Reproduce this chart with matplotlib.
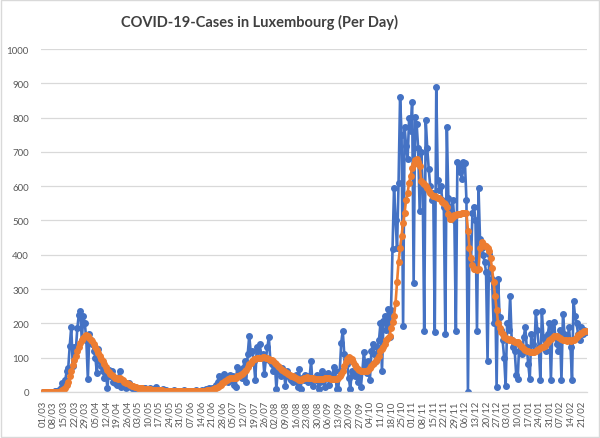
import numpy as np
import pandas as pd
import matplotlib
matplotlib.use('Agg')
import matplotlib.pyplot as plt
from matplotlib.patches import Rectangle

# daily new cases, one row per week, starting Sunday 01/03/2020
daily_cases = [
    0, 0, 0, 0, 1, 1, 0,
    0, 2, 3, 3, 7, 12, 25,
    20, 35, 60, 70, 135, 190, 75,
    130, 120, 185, 225, 235, 150, 220,
    200, 150, 38, 170, 150, 140, 120,
    100, 55, 125, 90, 75, 60, 40,
    50, 12, 65, 45, 60, 30, 25,
    20, 35, 62, 15, 30, 25, 10,
    15, 25, 20, 10, 12, 8, 5,
    5, 10, 8, 5, 12, 10, 4,
    3, 10, 6, 4, 8, 15, 3,
    2, 5, 3, 8, 3, 5, 2,
    1, 3, 2, 5, 2, 4, 1,
    2, 3, 1, 5, 2, 3, 2,
    1, 4, 2, 3, 5, 2, 1,
    3, 6, 2, 8, 4, 10, 8,
    12, 5, 15, 20, 30, 45, 25,
    38, 52, 45, 40, 30, 50, 35,
    45, 20, 14, 72, 55, 60, 40,
    70, 91, 29, 110, 164, 116, 120,
    90, 35, 131, 120, 140, 100, 110,
    52, 95, 130, 159, 91, 80, 60,
    81, 9, 72, 60, 45, 70, 55,
    18, 62, 50, 40, 35, 30, 45,
    50, 14, 67, 9, 40, 35, 50,
    45, 30, 40, 91, 18, 40, 35,
    50, 9, 30, 62, 45, 14, 40,
    55, 20, 45, 40, 72, 60, 9,
    9, 60, 144, 178, 110, 95, 80,
    40, 9, 60, 55, 45, 62, 30,
    50, 14, 60, 116, 75, 55, 90,
    35, 120, 140, 110, 90, 130, 150,
    200, 60, 207, 222, 180, 241, 160,
    240, 416, 595, 500, 420, 610, 861,
    750, 193, 774, 716, 680, 798, 760,
    847, 319, 803, 780, 710, 527, 700,
    600, 178, 794, 712, 650, 600, 560,
    580, 174, 890, 619, 590, 600, 560,
    540, 169, 774, 567, 540, 520, 560,
    500, 178, 672, 660, 640, 620, 672,
    668, 560, 0, 450, 380, 523, 540,
    500, 178, 596, 445, 420, 400, 380,
    350, 91, 401, 360, 330, 200, 320,
    14, 328, 218, 180, 150, 100, 18,
    200, 180, 280, 150, 130, 120, 50,
    38, 140, 120, 110, 160, 189, 130,
    80, 38, 170, 140, 120, 232, 180,
    130, 35, 236, 160, 150, 120, 170,
    200, 35, 190, 203, 160, 140, 120,
    180, 35, 227, 170, 160, 150, 190,
    130, 35, 265, 221, 200, 170, 150,
    190, 169, 180, 175,
]

# 7-day average as drawn (orange series)
avg_cases = [
    0, 0, 0, 0, 0, 0, 0,
    0, 0, 0, 0, 0, 2, 5,
    8, 12, 20, 30, 45, 62, 78,
    92, 105, 118, 130, 142, 150, 158,
    163, 165, 162, 158, 152, 148, 140,
    130, 122, 114, 105, 97, 89, 81,
    72, 65, 58, 52, 48, 45, 42,
    40, 38, 40, 38, 35, 30, 27,
    25, 22, 20, 18, 16, 15, 14,
    12, 11, 10, 10, 9, 9, 8,
    8, 8, 7, 7, 7, 6, 6,
    5, 5, 5, 4, 4, 4, 4,
    3, 3, 3, 3, 3, 3, 3,
    3, 3, 3, 2, 2, 3, 3,
    3, 3, 3, 3, 3, 3, 3,
    3, 4, 4, 4, 5, 5, 6,
    7, 8, 10, 12, 15, 18, 20,
    25, 28, 32, 35, 37, 40, 40,
    42, 42, 42, 45, 47, 50, 52,
    55, 60, 65, 72, 80, 85, 90,
    95, 97, 98, 100, 100, 100, 101,
    101, 100, 98, 96, 94, 92, 90,
    85, 81, 76, 72, 68, 64, 60,
    57, 54, 51, 49, 47, 45, 44,
    40, 37, 35, 36, 38, 40, 42,
    43, 42, 41, 40, 40, 39, 38,
    38, 38, 37, 38, 39, 40, 40,
    40, 40, 39, 38, 38, 38, 38,
    40, 45, 52, 62, 75, 88, 96,
    101, 100, 96, 88, 78, 72, 67,
    64, 62, 60, 60, 62, 62, 65,
    70, 75, 80, 85, 90, 95, 105,
    120, 125, 132, 140, 150, 158, 164,
    185, 205, 222, 260, 320, 380, 420,
    455, 494, 523, 560, 581, 610, 630,
    654, 665, 677, 680, 672, 660, 615,
    610, 605, 600, 595, 585, 580, 575,
    572, 570, 568, 567, 565, 560, 555,
    550, 547, 540, 520, 503, 505, 510,
    515, 517, 518, 520, 520, 522, 523,
    523, 522, 470, 421, 390, 370, 358,
    358, 355, 358, 420, 436, 432, 425,
    425, 420, 410, 390, 360, 320, 280,
    240, 200, 185, 175, 168, 160, 156,
    154, 152, 155, 150, 148, 145, 145,
    145, 140, 135, 130, 125, 122, 120,
    118, 117, 116, 116, 116, 118, 122,
    125, 128, 130, 132, 135, 140, 145,
    150, 155, 158, 162, 164, 163, 160,
    158, 155, 152, 150, 150, 149, 150,
    149, 150, 152, 155, 160, 165, 170,
    172, 175, 178, 178,
]

dates = pd.date_range('2020-03-01', periods=len(daily_cases), freq='D')
date_labels = [d.strftime('%d/%m') for d in dates]

plt.rcParams['font.family'] = ['Lato', 'DejaVu Sans']

fig = plt.figure(figsize=(6.0, 4.39), dpi=100)
ax = fig.add_axes([0.069, 0.105, 0.909, 0.781])

x = np.arange(len(daily_cases))
ax.plot(x, daily_cases, color='#4472C4', lw=1.9, marker='o', ms=4.0,
        mec='#4472C4', mfc='#4472C4')
ax.plot(x, avg_cases, color='#ED7D31', lw=1.9, marker='o', ms=4.0,
        mec='#ED7D31', mfc='#ED7D31')

ax.set_ylim(0, 1000)
ax.set_xlim(-0.8, len(daily_cases) - 0.2)
ax.set_yticks(range(0, 1001, 100))
ax.set_xticks(x[::7])
ax.set_xticklabels(date_labels[::7], rotation=90, fontsize=6.8, color='#595959')
ax.tick_params(axis='y', labelsize=7, labelcolor='#595959', length=0, pad=9)
ax.tick_params(axis='x', length=0, pad=6)
ax.yaxis.grid(True, color='#D9D9D9', lw=0.9)
ax.set_axisbelow(True)
for side in ('top', 'right', 'left'):
    ax.spines[side].set_visible(False)
ax.spines['bottom'].set_color('#D9D9D9')
ax.spines['bottom'].set_linewidth(0.9)

fig.text(0.433, 0.948, 'COVID-19-Cases in Luxembourg (Per Day)', ha='center', va='center',
         fontsize=10.5, fontweight='bold', color='#404040')

fig.patches.append(Rectangle((0.002, 0.002), 0.996, 0.995, transform=fig.transFigure,
                             fill=False, edgecolor='#D9D9D9', lw=1))

fig.savefig('out.png', dpi=100)
